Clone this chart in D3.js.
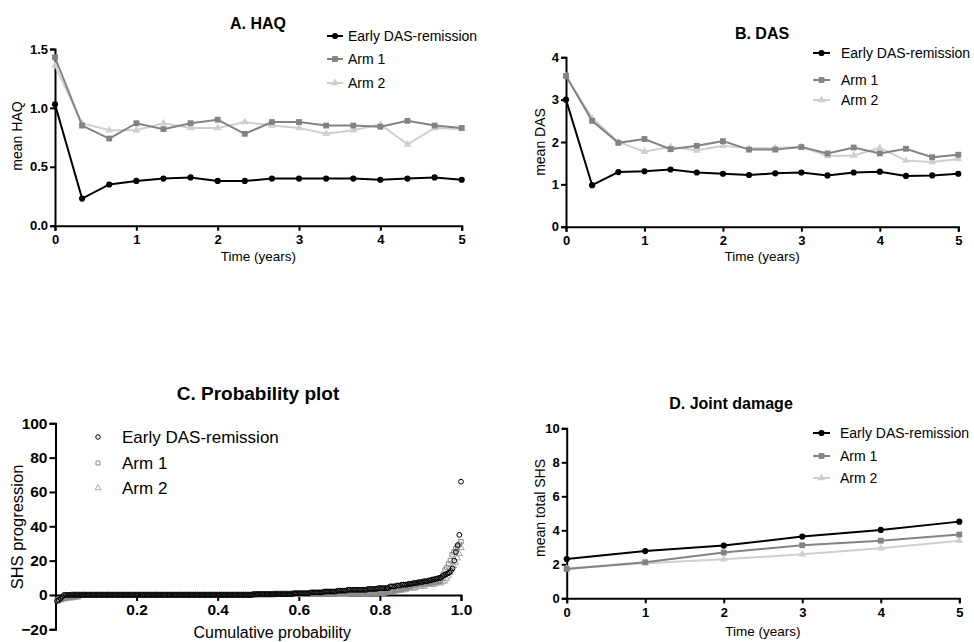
<!DOCTYPE html>
<html>
<head>
<meta charset="utf-8">
<script src="https://cdn.jsdelivr.net/npm/d3@7/dist/d3.min.js"></script>
<style>
    body { margin: 0; background: #fff; }
    svg { font-family: 'Liberation Sans', Arial, sans-serif; display: block; }
</style>
</head>
<body>
<svg id="chart" width="974" height="642"></svg>
<script>
const SERIES = ['Early DAS-remission', 'Arm 1', 'Arm 2'];
const COLORS = ['#000000', '#838383', '#cfcfcf'];
const SYMBOLS = [d3.symbolCircle, d3.symbolSquare, d3.symbolTriangle];

// visits every 4 months (years)
const visitYears = [0, 0.333, 0.667, 1, 1.333, 1.667, 2, 2.333, 2.667, 3, 3.333, 3.667, 4, 4.333, 4.667, 5];

// --- A. HAQ
const haqEarly = [1.03, 0.23, 0.35, 0.38, 0.40, 0.41, 0.38, 0.38, 0.40, 0.40, 0.40, 0.40, 0.39, 0.40, 0.41, 0.39];
const haqArm1 = [1.43, 0.85, 0.74, 0.87, 0.82, 0.87, 0.90, 0.78, 0.88, 0.88, 0.85, 0.85, 0.84, 0.89, 0.85, 0.83];
const haqArm2 = [1.36, 0.87, 0.81, 0.81, 0.87, 0.83, 0.83, 0.88, 0.85, 0.83, 0.78, 0.81, 0.86, 0.69, 0.83, 0.82];

// --- B. DAS
const dasEarly = [3.00, 0.98, 1.29, 1.31, 1.35, 1.28, 1.25, 1.22, 1.26, 1.28, 1.21, 1.28, 1.30, 1.20, 1.21, 1.25];
const dasArm1 = [3.56, 2.50, 1.98, 2.07, 1.83, 1.91, 2.02, 1.82, 1.82, 1.88, 1.73, 1.87, 1.73, 1.84, 1.64, 1.70];
const dasArm2 = [3.56, 2.56, 2.00, 1.77, 1.89, 1.80, 1.91, 1.85, 1.86, 1.89, 1.67, 1.68, 1.86, 1.56, 1.53, 1.60];

// --- D. Joint damage
const shsYears = [0, 1, 2, 3, 4, 5];
const shsEarly = [2.31, 2.78, 3.10, 3.63, 4.02, 4.51];
const shsArm1 = [1.73, 2.12, 2.69, 3.12, 3.39, 3.75];
const shsArm2 = [1.75, 2.06, 2.29, 2.59, 2.94, 3.39];

// --- C. Probability plot: SHS progression, sorted, as [value, number of patients]
const progEarly = [[-3.5, 1], [-3, 1], [-2, 1], [-1, 1], [0, 112], [0.5, 24], [1, 10], [1.5, 8], [2, 8], [2.5, 6],
    [3, 12], [3.5, 6], [4, 7], [5, 4], [5.5, 3], [6, 4], [6.5, 3], [7, 3], [7.5, 3], [8, 3], [8.5, 2], [9, 2],
    [9.5, 2], [10, 2], [11, 1], [11.5, 1], [12, 1], [12.5, 1], [13, 1], [14, 1], [15.5, 1], [20, 1], [25, 1],
    [29, 1], [35, 1], [66, 1]];
const progArm1 = [[-3, 1], [-2.5, 2], [-2, 3], [-1.5, 4], [-1, 3], [0, 100], [0.5, 45], [1, 25], [1.5, 5], [2, 3],
    [3, 5], [4, 3], [5, 2], [6, 3], [6.5, 4], [7, 5], [7.5, 3], [8, 2], [10, 1], [12, 1], [14.5, 1], [16, 1],
    [18, 1], [20, 1], [23.5, 1], [25, 1], [27, 1], [28, 1], [29.5, 1], [31, 1]];
const progArm2 = [[-3.5, 1], [-3, 2], [-2, 2], [-1, 3], [0, 110], [0.5, 40], [1, 20], [2, 6], [3, 6], [4, 5],
    [5, 5], [6, 5], [7, 4], [8, 2], [9.5, 1], [11, 1], [13, 1], [15, 1], [17, 1], [19, 1], [21.5, 1], [24, 1], [27.5, 1]];

const probTicks = [0.2, 0.4, 0.6, 0.8, 1.0];
const progTicks = [-20, 0, 20, 40, 60, 80, 100];

const svg = d3.select('#chart');

function styleAxis(sel, fontSize) {
    sel.selectAll('path, line').attr('stroke', '#000').attr('stroke-width', 2);
    sel.selectAll('text')
        .attr('fill', '#000')
        .attr('font-weight', 'bold')
        .attr('font-size', fontSize)
        .attr('font-family', "'Liberation Sans', Arial, sans-serif");
}

function drawMarker(g, type, color, x, y, size) {
    g.append('path')
        .attr('d', d3.symbol().type(type).size(size)())
        .attr('transform', `translate(${x},${y})`)
        .attr('fill', color);
}

function drawLinePanel(p) {
    const x = d3.scaleLinear().domain([0, 5]).range([p.left, p.right]);
    const y = d3.scaleLinear().domain(p.yDomain).range([p.bottom, p.top]);
    const g = svg.append('g');

    g.append('g')
        .attr('transform', `translate(0,${p.bottom})`)
        .call(d3.axisBottom(x).tickValues([0, 1, 2, 3, 4, 5]).tickFormat(d3.format('d')).tickSizeOuter(0).tickSize(5).tickPadding(4))
        .call(s => styleAxis(s, 13));

    g.append('g')
        .attr('transform', `translate(${p.left},0)`)
        .call(d3.axisLeft(y).tickValues(p.yTicks).tickFormat(d3.format(p.yFormat)).tickSizeOuter(0).tickSize(5).tickPadding(2))
        .call(s => styleAxis(s, 13));

    const line = d3.line().x(d => x(d[0])).y(d => y(d[1]));
    const sizes = [30, 34, 26];

    // draw Arm 2 first so that Arm 1 and early remission sit on top
    [2, 1, 0].forEach(k => {
        const pts = p.times.map((t, i) => [t, p.series[k][i]]);
        g.append('path')
            .datum(pts)
            .attr('fill', 'none')
            .attr('stroke', COLORS[k])
            .attr('stroke-width', 2)
            .attr('d', line);
        g.append('g').selectAll('path')
            .data(pts)
            .enter()
            .append('path')
            .attr('d', d3.symbol().type(SYMBOLS[k]).size(sizes[k])())
            .attr('transform', d => `translate(${x(d[0])},${y(d[1])})`)
            .attr('fill', COLORS[k]);
    });

    g.append('text')
        .attr('x', p.title[1]).attr('y', p.title[2])
        .attr('text-anchor', 'middle').attr('dominant-baseline', 'central')
        .attr('font-weight', 'bold').attr('font-size', 16)
        .text(p.title[0]);

    g.append('text')
        .attr('x', (p.left + p.right) / 2).attr('y', p.xLabelY)
        .attr('text-anchor', 'middle').attr('dominant-baseline', 'central')
        .attr('font-size', 13.5)
        .text('Time (years)');

    g.append('text')
        .attr('transform', `translate(${p.yLabel[1]},${p.yLabel[2]}) rotate(-90)`)
        .attr('text-anchor', 'middle').attr('dominant-baseline', 'central')
        .attr('font-size', 14)
        .text(p.yLabel[0]);

    // legend
    const lg = g.append('g');
    SERIES.forEach((name, k) => {
        const ly = p.legend.ys[k];
        lg.append('line')
            .attr('x1', p.legend.x1).attr('x2', p.legend.x2)
            .attr('y1', ly).attr('y2', ly)
            .attr('stroke', COLORS[k]).attr('stroke-width', 2);
        drawMarker(lg, SYMBOLS[k], COLORS[k], (p.legend.x1 + p.legend.x2) / 2, ly, sizes[k]);
        lg.append('text')
            .attr('x', p.legend.tx).attr('y', ly)
            .attr('dominant-baseline', 'central')
            .attr('font-size', 14)
            .text(name);
    });
}

drawLinePanel({
    left: 55, right: 461.7, top: 49, bottom: 225.7,
    yDomain: [0, 1.5], yTicks: [0, 0.5, 1, 1.5], yFormat: '.1f',
    times: visitYears, series: [haqEarly, haqArm1, haqArm2],
    title: ['A. HAQ', 258, 23], yLabel: ['mean HAQ', 17, 136], xLabelY: 256,
    legend: {x1: 327, x2: 343, tx: 348, ys: [36, 59, 83]}
});

drawLinePanel({
    left: 566, right: 958.3, top: 57.3, bottom: 226.7,
    yDomain: [0, 4], yTicks: [0, 1, 2, 3, 4], yFormat: 'd',
    times: visitYears, series: [dasEarly, dasArm1, dasArm2],
    title: ['B. DAS', 762, 33], yLabel: ['mean DAS', 540, 142], xLabelY: 256,
    legend: {x1: 813, x2: 830, tx: 841, ys: [53, 80, 100]}
});

drawLinePanel({
    left: 566.7, right: 959.3, top: 428.3, bottom: 598.3,
    yDomain: [0, 10], yTicks: [0, 2, 4, 6, 8, 10], yFormat: 'd',
    times: shsYears, series: [shsEarly, shsArm1, shsArm2],
    title: ['D. Joint damage', 731, 403], yLabel: ['mean total SHS', 540, 508], xLabelY: 631,
    legend: {x1: 813, x2: 830, tx: 840, ys: [433, 456, 478]}
});

// --- C. Probability plot
function drawProbabilityPanel() {
    const left = 55.5, right = 461, top = 423.3, bottom = 629.3;
    const x = d3.scaleLinear().domain([0, 1]).range([left, right]);
    const y = d3.scaleLinear().domain([-20, 100]).range([bottom, top]);
    const g = svg.append('g');

    g.append('g')
        .attr('transform', `translate(0,${y(0)})`)
        .call(d3.axisBottom(x).tickValues(probTicks).tickFormat(d3.format('.1f')).tickSizeOuter(0).tickSize(6).tickPadding(3))
        .call(s => styleAxis(s, 15.5));

    g.append('g')
        .attr('transform', `translate(${left},0)`)
        .call(d3.axisLeft(y).tickValues(progTicks).tickFormat(d3.format('d')).tickSizeOuter(0).tickSize(6).tickPadding(2))
        .call(s => styleAxis(s, 15.5));

    const groups = [progEarly, progArm1, progArm2].map(runs => {
        const vals = [];
        runs.forEach(r => d3.range(r[1]).forEach(() => vals.push(r[0])));
        return vals.map((v, i) => [(i + 1) / vals.length, v]);
    });

    const markColors = ['#000000', '#8a8a8a', '#a8a8a8'];
    const sizes = [18, 20, 18];
    [2, 1, 0].forEach(k => {
        g.append('g').selectAll('path')
            .data(groups[k])
            .enter()
            .append('path')
            .attr('d', d3.symbol().type(SYMBOLS[k]).size(sizes[k])())
            .attr('transform', d => `translate(${x(d[0])},${y(d[1])})`)
            .attr('fill', 'none')
            .attr('stroke', markColors[k])
            .attr('stroke-width', 1);
    });

    g.append('text')
        .attr('x', 258).attr('y', 393)
        .attr('text-anchor', 'middle').attr('dominant-baseline', 'central')
        .attr('font-weight', 'bold').attr('font-size', 19)
        .text('C. Probability plot');

    g.append('text')
        .attr('x', (left + right) / 2 + 14).attr('y', 632)
        .attr('text-anchor', 'middle').attr('dominant-baseline', 'central')
        .attr('font-size', 16)
        .text('Cumulative probability');

    g.append('text')
        .attr('transform', 'translate(17,527) rotate(-90)')
        .attr('text-anchor', 'middle').attr('dominant-baseline', 'central')
        .attr('font-size', 16.5)
        .text('SHS progression');

    const legendY = [437, 463, 488];
    SERIES.forEach((name, k) => {
        g.append('path')
            .attr('d', d3.symbol().type(SYMBOLS[k]).size(16)())
            .attr('transform', `translate(98,${legendY[k]})`)
            .attr('fill', 'none')
            .attr('stroke', markColors[k])
            .attr('stroke-width', 1);
        g.append('text')
            .attr('x', 122).attr('y', legendY[k])
            .attr('dominant-baseline', 'central')
            .attr('font-size', 17)
            .text(name);
    });
}

drawProbabilityPanel();
</script>
</body>
</html>
